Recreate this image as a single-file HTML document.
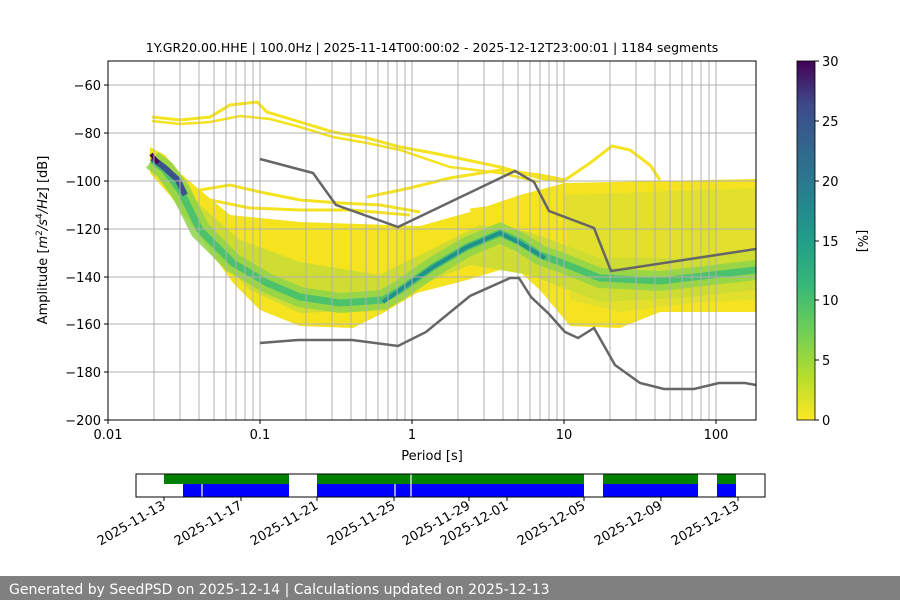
<!DOCTYPE html>
<html><head><meta charset="utf-8"><style>
body{margin:0;width:900px;height:600px;background:#fff;overflow:hidden;font-family:"Liberation Sans","DejaVu Sans",sans-serif}
</style></head><body>
<svg width="900" height="600" xmlns="http://www.w3.org/2000/svg" font-family="DejaVu Sans, Liberation Sans, sans-serif">
<defs>
<linearGradient id="vir" x1="0" y1="1" x2="0" y2="0">
<stop offset="0" stop-color="#fde725"/><stop offset="0.12" stop-color="#b5de2b"/><stop offset="0.25" stop-color="#6ece58"/><stop offset="0.38" stop-color="#35b779"/><stop offset="0.5" stop-color="#1f9e89"/><stop offset="0.62" stop-color="#26828e"/><stop offset="0.75" stop-color="#31688e"/><stop offset="0.88" stop-color="#3e4989"/><stop offset="1" stop-color="#440154"/>
</linearGradient>
<clipPath id="ax"><rect x="108" y="61" width="648" height="359"/></clipPath>
</defs>
<text x="432" y="52" font-size="12.5" text-anchor="middle">1Y.GR20.00.HHE | 100.0Hz | 2025-11-14T00:00:02 - 2025-12-12T23:00:01 | 1184 segments</text>
<g clip-path="url(#ax)">
<!-- yellow envelope -->
<path d="M150,147 L165,155 L180,173 L200,190 L230,215 L300,222 L360,224 L420,226 L470,212 L520,195 L565,183 L660,181 L756,179 L756,312 L660,312 L620,328 L570,326 L540,290 L520,272 L500,270 L467,280 L417,293 L383,313 L353,328 L300,326 L260,310 L233,283 L200,237 L180,207 L150,173 Z" fill="#f5e31f"/>
<path d="M565,195 L756,188 L756,300 L700,302 L620,312 L570,300 Z" fill="#e2e02c"/>
<path d="M170,170 L200,205 L240,240 L300,262 L380,275 L430,250 L480,225 L530,232 L600,258 L680,258 L756,250 L756,290 L680,298 L600,302 L530,275 L470,265 L420,285 L370,310 L300,313 L250,290 L210,250 L180,210 L160,180 Z" fill="#cfdd33"/>
<!-- green mode band -->
<path d="M152,160 L165,170 L180,190 L200,230 L233,263 L267,283 L300,297 L340,303 L383,300 L400,290 L433,267 L467,247 L500,233 L520,242 L540,255 L560,262 L600,278 L660,281 L756,270" fill="none" stroke="#8fd54a" stroke-width="20" opacity="0.85"/>
<path d="M152,160 L165,170 L180,190 L200,230 L233,263 L267,283 L300,297 L340,303 L383,300 L400,290 L433,267 L467,247 L500,233 L520,242 L540,255 L560,262 L600,278 L660,281 L756,270" fill="none" stroke="#4cc26c" stroke-width="7"/>
<path d="M383,302 L400,290 L433,267 L467,247 L500,233 L520,243 L545,258" fill="none" stroke="#21918c" stroke-width="4"/>
<path d="M152,158 L165,168 L178,180 L185,195" fill="none" stroke="#3b528b" stroke-width="6"/>
<path d="M151,154 L158,163" stroke="#440154" stroke-width="4"/>
<!-- scattered yellow strips above envelope -->
<g fill="none" stroke="#f5e31f" stroke-width="3">
<path d="M200,190 L230,185 L260,192 L300,200 L340,203 L380,205 L420,212"/>
<path d="M210,200 L250,208 L300,210 L350,210 L410,215"/>
<path d="M367,197 L410,188 L450,178 L500,170 L540,175 L565,180"/>
<path d="M470,210 L510,205 L560,200"/>
</g>
<!-- upper thin yellow lines -->
<path d="M152,117 L180,120 L210,117 L230,105 L257,102 L267,112 L300,122 L333,132 L367,138 L400,147 L433,153 L467,160 L500,167 L540,178 L565,182" fill="none" stroke="#f5e31f" stroke-width="3"/>
<path d="M152,121 L180,124 L210,122 L240,116 L270,119 L300,127 L333,137 L367,143 L400,150 L450,167 L500,173 L540,182" fill="none" stroke="#f5e31f" stroke-width="2.5"/>
<path d="M565,180 L590,163 L612,146 L630,150 L650,165 L660,180" fill="none" stroke="#f5e31f" stroke-width="3"/>
</g>
<!-- grid -->
<g stroke="#b0b0b0" stroke-width="1">
<path d="M154,61V420M180,61V420M199,61V420M214,61V420M226,61V420M236,61V420M245,61V420M253,61V420M260,61V420M306,61V420M332,61V420M351,61V420M366,61V420M378,61V420M388,61V420M397,61V420M405,61V420M412,61V420M458,61V420M484,61V420M503,61V420M518,61V420M530,61V420M540,61V420M549,61V420M557,61V420M564,61V420M610,61V420M636,61V420M655,61V420M670,61V420M682,61V420M692,61V420M701,61V420M709,61V420M716,61V420M756,61V420"/>
<path d="M108,85H756M108,133H756M108,181H756M108,229H756M108,277H756M108,324H756M108,372H756"/>
</g>
<!-- noise models -->
<g fill="none" stroke="#666" stroke-width="2.5" clip-path="url(#ax)">
<polyline points="260,159 313,173 336,205 398,227 515,171 534,182 549,211 594,228 611,271 756,249"/>
<polyline points="260,343 298,340 352,340 398,346 426,332 470,296 510,278 519,278 531,297 549,314 565,332 578,338 594,328 615,365 640,383 664,389 694,389 719,383 745,383 756,385"/>
</g>
<rect x="108" y="61" width="648" height="359" fill="none" stroke="#000"/>
<g font-size="13" text-anchor="end">
<g stroke="#000"><path d="M104,85H108M104,133H108M104,181H108M104,229H108M104,277H108M104,324H108M104,372H108M104,420H108"/></g>
<text x="101" y="90">−60</text><text x="101" y="138">−80</text><text x="101" y="186">−100</text><text x="101" y="234">−120</text><text x="101" y="282">−140</text><text x="101" y="329">−160</text><text x="101" y="377">−180</text><text x="101" y="425">−200</text>
</g>
<g stroke="#000"><path d="M108,420V424M260,420V424M412,420V424M564,420V424M716,420V424"/></g>
<g font-size="13" text-anchor="middle">
<text x="108" y="439">0.01</text><text x="260" y="439">0.1</text><text x="412" y="439">1</text><text x="564" y="439">10</text><text x="716" y="439">100</text>
<text x="432" y="460">Period [s]</text>
</g>
<text transform="translate(47,240) rotate(-90)" font-size="13" text-anchor="middle">Amplitude [<tspan font-style="italic">m</tspan><tspan font-size="9" dy="-5">2</tspan><tspan dy="5" font-style="italic">/s</tspan><tspan font-size="9" dy="-5">4</tspan><tspan dy="5" font-style="italic">/Hz</tspan>] [dB]</text>
<rect x="797" y="61" width="18" height="359" fill="url(#vir)" stroke="#000" stroke-width="0.8"/>
<g stroke="#000"><path d="M815,61H819M815,121H819M815,181H819M815,241H819M815,300H819M815,360H819M815,420H819"/></g>
<g font-size="13"><text x="822" y="66">30</text><text x="822" y="126">25</text><text x="822" y="186">20</text><text x="822" y="246">15</text><text x="822" y="305">10</text><text x="822" y="365">5</text><text x="822" y="425">0</text></g>
<text transform="translate(858,241) rotate(90)" font-size="13" text-anchor="middle">[%]</text>
<rect x="164" y="474" width="125" height="10" fill="#008000"/>
<rect x="183" y="484" width="106" height="13" fill="#0000ff"/>
<rect x="317" y="474" width="267" height="10" fill="#008000"/>
<rect x="317" y="484" width="267" height="13" fill="#0000ff"/>
<rect x="603" y="474" width="95" height="10" fill="#008000"/>
<rect x="603" y="484" width="95" height="13" fill="#0000ff"/>
<rect x="717" y="474" width="19" height="10" fill="#008000"/>
<rect x="717" y="484" width="19" height="13" fill="#0000ff"/>
<path d="M202,484V497M395,484V497M411,474V497" stroke="#fff" stroke-width="1.2"/>
<rect x="136" y="474" width="629" height="23" fill="none" stroke="#000"/>
<g stroke="#000"><path d="M164,497V501M241,497V501M317,497V501M394,497V501M469,497V501M507,497V501M584,497V501M661,497V501M738,497V501"/></g>
<g font-size="13" text-anchor="end">
<text transform="translate(166,508) rotate(-30)">2025-11-13</text>
<text transform="translate(243,508) rotate(-30)">2025-11-17</text>
<text transform="translate(319,508) rotate(-30)">2025-11-21</text>
<text transform="translate(396,508) rotate(-30)">2025-11-25</text>
<text transform="translate(471,508) rotate(-30)">2025-11-29</text>
<text transform="translate(509,508) rotate(-30)">2025-12-01</text>
<text transform="translate(586,508) rotate(-30)">2025-12-05</text>
<text transform="translate(663,508) rotate(-30)">2025-12-09</text>
<text transform="translate(740,508) rotate(-30)">2025-12-13</text>
</g>
<rect x="0" y="576" width="900" height="24" fill="#808080"/>
<text x="9" y="594" font-size="14" fill="#fff">Generated by SeedPSD on 2025-12-14 | Calculations updated on 2025-12-13</text>
</svg>
</body></html>
